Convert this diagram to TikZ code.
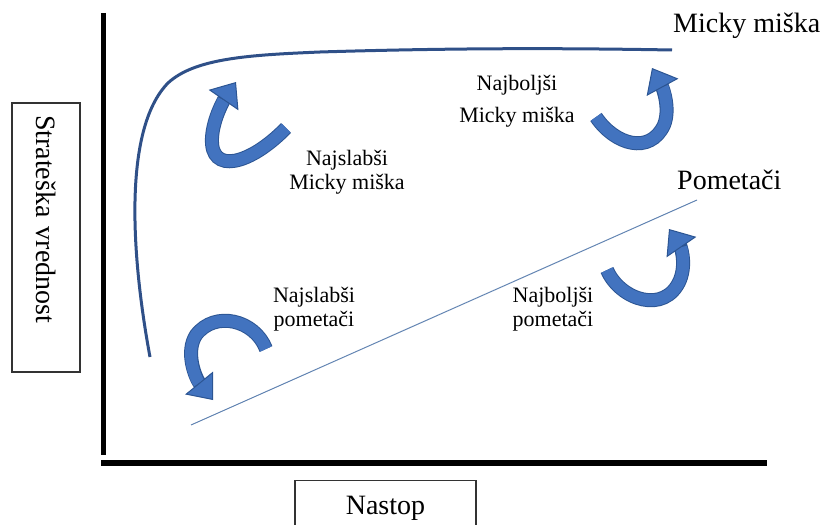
\documentclass[tikz,border=0pt]{standalone}
\usepackage{fontspec}
\setmainfont{Liberation Serif}
\usetikzlibrary{arrows.meta}

\definecolor{curveblue}{HTML}{2F5088}
\definecolor{lineblue}{HTML}{6284B2}
\definecolor{arrowfill}{HTML}{4273BF}
\definecolor{arrowedge}{HTML}{2C5593}

\tikzset{
    turn/.style={draw=arrowfill, line width=12pt,
        preaction={draw=arrowedge, line width=14pt, arrows=-, shorten >=19pt},
        -{Triangle[width=36pt, length=22pt, color=arrowedge, fill=arrowfill, line width=1pt]}},
    sublabel/.style={font=\fontsize{22}{24}\selectfont, align=center, inner sep=0pt},
    biglabel/.style={font=\fontsize{28}{30}\selectfont, inner sep=0pt},
    axisbox/.style={draw=black!80, line width=1.2pt, inner sep=0pt, font=\fontsize{28}{30}\selectfont}
}

\begin{document}
\begin{tikzpicture}[x=1pt, y=-1pt]
    \useasboundingbox (0,0) rectangle (826,524);

    % axes
    \draw[line width=5pt] (103,13) -- (103,455);
    \draw[line width=6pt] (101,463) -- (767,463);

    % axis labels
    \node[axisbox, rotate=-90, minimum height=68pt, text width=245pt, inner xsep=12pt, align=left] (value) at (46,237.5) {Strateška vrednost};
    \node[axisbox, minimum width=181pt, minimum height=56pt, anchor=north] (nastop) at (385.5,480) {Nastop};

    % the two curves
    \draw[curveblue, line width=3pt] (150,357) .. controls (132,260) and (122,130) .. (168,83)
        .. controls (195,58) and (250,55) .. (320,52) .. controls (450,48) and (560,48) .. (672,50);
    \draw[lineblue, line width=1pt] (191,425) -- (697,200);

    \node[biglabel, anchor=base west] (mickylabel) at (673,33) {Micky miška};
    \node[biglabel, anchor=base west] (pometacilabel) at (677,189) {Pometači};

    % turning arrows
    \draw[turn] (286,128) .. controls (250,165) and (210,175) .. (212,138) .. controls (213,118) and (225,98) .. (236,82);
    \draw[turn] (596,117) .. controls (615,145) and (650,155) .. (664,125) .. controls (670,110) and (664,90) .. (652,68);
    \draw[turn] (266,349) .. controls (255,320) and (215,310) .. (196,335) .. controls (185,352) and (195,378) .. (213,400);
    \draw[turn] (607,270) .. controls (620,300) and (665,315) .. (680,280) .. controls (687,262) and (680,245) .. (669,229);

    \node[sublabel] (weakmicky) at (347,172) {Najslabši\\Micky miška};
    \node[sublabel] (bestmicky) at (517,101) {Najboljši\\[8pt]Micky miška};
    \node[sublabel] (weakpometaci) at (314,309) {Najslabši\\pometači};
    \node[sublabel] (bestpometaci) at (553,309) {Najboljši\\pometači};
\end{tikzpicture}
\end{document}
